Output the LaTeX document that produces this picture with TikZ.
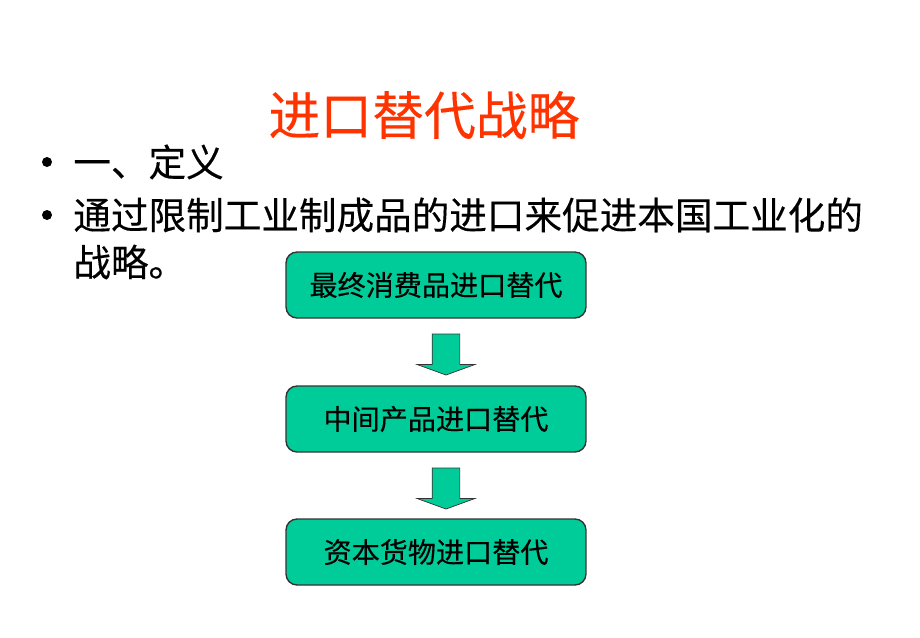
\documentclass[tikz,border=0pt]{standalone}
\usepackage{fontspec}
\setmainfont{Noto Sans CJK SC}[BoldFont=Noto Sans CJK SC, BoldFeatures={FakeBold=0.3}]
\usetikzlibrary{shapes,arrows,positioning,calc}
\definecolor{titlered}{RGB}{255,51,0}
\definecolor{stagegreen}{RGB}{0,204,153}

\begin{document}
\begin{tikzpicture}[x=0.02cm,y=-0.02cm,
  stagebox/.style={draw=black!80, thick, rounded corners=0.22cm, fill=stagegreen,
    minimum width=6cm, minimum height=1.32cm, font=\fontsize{16}{18}\selectfont\bfseries},
  downarrow/.style={draw=black!80, fill=stagegreen, single arrow, rotate=-90,
    minimum height=0.82cm, minimum width=1.14cm, inner sep=0.27cm,
    single arrow head extend=0.3cm, single arrow tip angle=140},
  bodytext/.style={anchor=west, inner sep=0pt, font=\fontsize{21.4}{25}\selectfont\bfseries},
  bulletdot/.style={circle, fill=black, inner sep=0pt, minimum size=0.2cm}]
  \useasboundingbox (0,0) rectangle (920,637);

  % Title
  \node[text=titlered, font=\fontsize{29.5}{34}\selectfont\bfseries] (title) at (424,115) {进口替代战略};

  % Bullet points
  \node[bulletdot] (dot1) at (47,162) {};
  \node[bodytext] (def) at (73,162) {一、定义};
  \node[bulletdot] (dot2) at (47,215) {};
  \node[bodytext] (line1) at (73,215) {通过限制工业制成品的进口来促进本国工业化的};
  \node[bodytext] (line2) at (73,262) {战略。};

  % Stages
  \node[stagebox] (stage1) at (436,285) {最终消费品进口替代};
  \node[stagebox] (stage2) at (436,419) {中间产品进口替代};
  \node[stagebox] (stage3) at (436,552) {资本货物进口替代};

  \node[downarrow] (arr1) at (446,352) {};
  \node[downarrow] (arr2) at (446,486) {};
\end{tikzpicture}
\end{document}
